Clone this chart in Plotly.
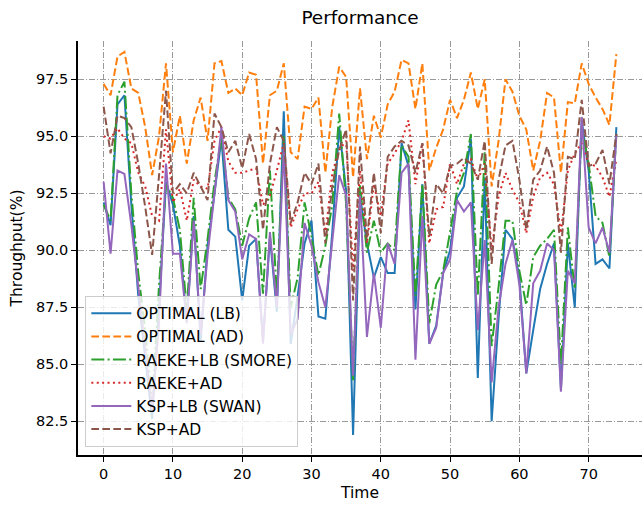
import plotly.graph_objects as go

time = list(range(75))

optimal_lb = [92.1, 91.1, 96.4, 96.8, 92.0, 88.0, 85.3, 82.6, 87.5, 93.0,
              92.0, 90.2, 86.9, 91.5, 86.0, 90.2, 92.5, 94.9, 90.9, 90.6,
              87.8, 90.2, 90.5, 86.0, 90.6, 87.3, 96.1, 85.9, 88.0, 90.3,
              91.3, 87.1, 87.0, 90.8, 95.4, 92.6, 81.9, 92.4, 90.3, 88.8,
              89.7, 89.0, 89.0, 94.7, 93.7, 87.4, 92.9, 85.9, 86.7, 89.0,
              90.0, 92.3, 92.8, 94.9, 84.4, 93.2, 82.5, 87.0, 90.9, 90.5,
              88.8, 84.6, 86.5, 88.3, 89.4, 90.3, 83.9, 90.3, 87.5, 95.7,
              93.5, 89.4, 89.6, 89.2, 95.4]

optimal_ad = [97.3, 96.8, 98.5, 98.7, 97.1, 96.9, 95.4, 93.3, 95.0, 98.2,
              94.3, 95.9, 93.8, 95.7, 96.7, 94.8, 98.2, 98.3, 96.9, 97.1,
              96.8, 97.8, 97.7, 93.8, 96.8, 97.0, 98.2, 94.3, 94.0, 96.3,
              96.2, 96.7, 93.4, 96.3, 98.05, 97.6, 93.2, 97.1, 94.0, 95.9,
              94.95, 96.4, 96.96, 98.35, 98.2, 96.2, 98.2, 93.5, 94.5, 95.3,
              96.6, 95.8, 96.6, 97.8, 96.2, 97.5, 92.8, 94.8, 97.5, 96.96,
              95.9, 95.3, 93.5, 94.8, 96.9, 96.7, 93.4, 96.5, 96.45, 98.2,
              97.3, 96.7, 96.2, 95.5, 98.6]

raeke_lb = [92.0, 91.3, 96.8, 97.4, 92.5, 89.0, 86.5, 83.3, 88.5, 92.9,
            92.3, 90.9, 87.4, 92.3, 88.3, 90.5, 93.0, 95.0, 92.3, 91.8,
            90.2, 91.4, 92.1, 88.1, 93.5, 88.0, 95.0, 87.5, 88.8, 92.1,
            90.6, 88.9, 90.2, 92.0, 96.0, 92.0, 84.3, 92.9, 89.9, 91.3,
            89.9, 90.3, 90.0, 94.6, 94.1, 88.0, 92.9, 86.8, 88.5, 89.1,
            90.8, 92.6, 93.4, 95.1, 88.0, 94.3, 85.8, 88.4, 91.3, 91.3,
            89.1, 87.6, 89.7, 90.2, 90.5, 90.9, 85.0, 91.0, 88.3, 95.4,
            93.8, 91.5, 91.2, 89.7, 95.1]

raeke_ad = [95.0, 94.9, 95.35, 94.9, 94.7, 93.4, 92.8, 91.5, 91.3, 95.3,
            92.1, 92.7, 91.3, 93.1, 92.8, 92.7, 94.8, 95.4, 93.9, 93.4,
            93.4, 93.5, 93.6, 92.0, 92.4, 93.5, 94.7, 91.0, 91.8, 92.5,
            92.5, 93.0, 90.7, 93.4, 94.4, 94.8, 89.1, 93.5, 90.3, 92.9,
            91.5, 93.8, 94.25, 94.8, 95.7, 92.9, 94.7, 90.3, 91.8, 91.9,
            93.8, 92.9, 93.8, 94.0, 93.1, 93.8, 90.0, 92.35, 93.4, 92.65,
            92.1, 90.75, 92.35, 93.2, 93.4, 92.9, 90.75, 93.5, 94.25, 94.7,
            93.8, 93.7, 93.2, 92.35, 94.0]

ksp_lb = [93.0, 89.85, 93.5, 93.35, 91.1, 88.3, 85.8, 83.0, 86.8, 93.8,
          89.85, 89.85, 86.8, 91.3, 86.3, 89.8, 92.5, 95.4, 92.2, 91.7,
          89.6, 90.7, 90.5, 85.9, 90.8, 87.5, 94.5, 86.3, 87.0, 91.2,
          90.2, 88.6, 87.5, 90.3, 93.3, 92.4, 84.5, 92.4, 86.2, 89.0,
          86.6, 90.3, 89.4, 93.4, 93.8, 85.2, 91.5, 85.9, 86.6, 89.0,
          89.6, 92.2, 91.7, 92.1, 86.5, 90.45, 84.2, 87.5, 89.4, 90.45,
          88.5, 84.6, 88.55, 89.1, 90.3, 90.0, 83.8, 89.1, 88.55, 95.85,
          91.0, 90.3, 91.0, 89.9, 95.1]

ksp_ad = [96.3, 94.25, 95.9, 95.8, 95.4, 93.8, 91.9, 89.8, 93.3, 97.0,
          92.5, 92.9, 92.5, 93.4, 92.8, 92.2, 96.0, 95.4, 94.3, 94.8,
          93.6, 95.1, 94.0, 90.9, 93.8, 95.4, 94.8, 91.2, 92.1, 93.4,
          92.9, 93.8, 90.3, 92.8, 94.4, 95.3, 87.8, 94.55, 90.5, 93.4,
          90.75, 94.1, 94.55, 94.8, 94.6, 93.4, 94.7, 90.6, 92.9, 92.5,
          93.7, 93.8, 94.05, 93.8, 93.1, 94.8, 89.4, 93.1, 94.6, 94.8,
          93.1, 90.9, 93.1, 93.5, 94.55, 93.4, 89.9, 94.1, 94.0, 96.6,
          93.7, 93.8, 94.4, 92.9, 95.1]

series = [
    ("OPTIMAL (LB)", optimal_lb, "#1f77b4", "solid"),
    ("OPTIMAL (AD)", optimal_ad, "#ff7f0e", "7.7px,3.3px"),
    ("RAEKE+LB (SMORE)", raeke_lb, "#2ca02c", "13px,3.3px,2px,3.3px"),
    ("RAEKE+AD", raeke_ad, "#d62728", "2px,3.4px"),
    ("KSP+LB (SWAN)", ksp_lb, "#9467bd", "solid"),
    ("KSP+AD", ksp_ad, "#8c564b", "7.7px,3.3px"),
]

x_ticks = [0, 10, 20, 30, 40, 50, 60, 70]
y_ticks = [82.5, 85.0, 87.5, 90.0, 92.5, 95.0, 97.5]

fig = go.Figure()
for name, vals, color, dash in series:
    fig.add_trace(go.Scatter(x=time, y=vals, mode="lines", name=name,
                             line=dict(color=color, width=2, dash=dash)))

font = "DejaVu Sans"
fig.update_layout(
    width=642, height=507,
    margin=dict(l=78, r=0, t=41, b=52),
    paper_bgcolor="white", plot_bgcolor="white",
    font=dict(family=font, size=14.5, color="black"),
    title=dict(text="Performance", x=0.5, xref="paper", y=0.965, yanchor="middle",
               font=dict(family=font, size=18.5, color="black")),
    showlegend=True,
    legend=dict(x=0.013, y=0.02, xanchor="left", yanchor="bottom",
                bgcolor="rgba(255,255,255,0.8)", bordercolor="#cccccc", borderwidth=1,
                font=dict(family=font, size=15.5, color="black"),
                tracegroupgap=0, itemwidth=40),
)
fig.update_xaxes(range=[-3.7, 77.7], tickvals=x_ticks, ticks="outside", ticklen=5,
                 tickcolor="black", showline=True, linecolor="black", linewidth=1.5,
                 showgrid=True, gridcolor="#999999", gridwidth=0.8,
                 griddash="6px,2px,1px,2px", zeroline=False,
                 title=dict(text="Time", font=dict(family=font, size=15.5), standoff=6))
fig.update_yaxes(range=[81.02, 99.18], tickvals=y_ticks, tickformat=".1f",
                 ticks="outside", ticklen=5, tickcolor="black", showline=True,
                 linecolor="black", linewidth=1.5, showgrid=True, gridcolor="#999999",
                 gridwidth=0.8, griddash="6px,2px,1px,2px", zeroline=False,
                 title=dict(text="Throughput(%)", font=dict(family=font, size=15.5), standoff=10))

fig.write_html("out.html")
